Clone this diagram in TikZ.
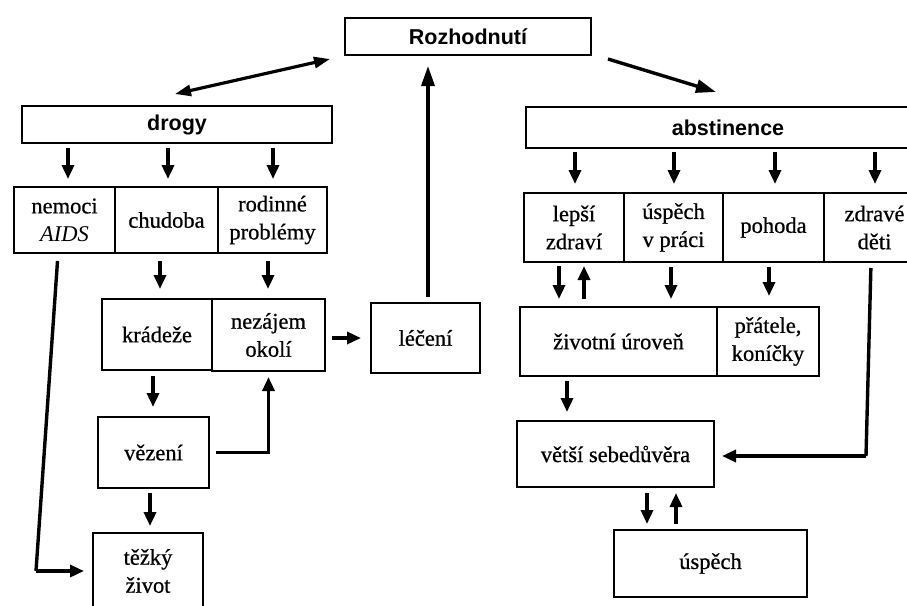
\documentclass[tikz,border=0pt]{standalone}
\usepackage{fontspec}
\setmainfont{Liberation Serif}[UprightFeatures={FakeBold=0.7}]
\newfontfamily\itfont{Liberation Serif Italic}
\newfontfamily\hdfont{Liberation Sans}
\usetikzlibrary{arrows.meta,calc}
\tikzset{
  bx/.style={draw, line width=2pt, inner sep=0pt, align=center,
    font=\fontsize{22.5}{28}\selectfont},
  hd/.style={bx, font=\hdfont\bfseries\fontsize{21.5}{24}\selectfont},
  arr/.style={line width=3.4pt, -{Triangle[length=14pt,width=12pt]}},
  darr/.style={line width=3.2pt, {Triangle[length=16pt,width=11pt]}-{Triangle[length=16pt,width=11pt]}},
  ln/.style={line width=3.4pt}
}
\begin{document}
\begin{tikzpicture}[x=1pt,y=-1pt]
\useasboundingbox (0,0) rectangle (907,605);
% header boxes
\node[hd, minimum width=246pt, minimum height=37pt] (rozh) at (468,36.5) {Rozhodnut\'{\i}};
\node[hd, minimum width=310pt, minimum height=37pt] (drogy) at (177,124.5) {drogy};
\node[hd, minimum width=404pt, minimum height=41pt] (abst) at (728,127.5) {abstinence};
% left side
\node[bx, minimum width=101pt, minimum height=66pt] (nemoci) at (64.5,220) {nemoci\\{\itfont AIDS}};
\node[bx, minimum width=103pt, minimum height=66pt] (chudoba) at (166.5,220) {chudoba};
\node[bx, minimum width=109pt, minimum height=66pt] (rodinne) at (272.5,220) {rodinné\\problémy};
\node[bx, minimum width=110pt, minimum height=71pt] (kradeze) at (157,334.5) {krádeže};
\node[bx, minimum width=113pt, minimum height=72pt] (nezajem) at (268.5,335) {nezájem\\okolí};
\node[bx, minimum width=109pt, minimum height=70pt] (leceni) at (425.5,338) {léčení};
\node[bx, minimum width=111pt, minimum height=71pt] (vezeni) at (153.5,452.5) {vězení};
\node[bx, minimum width=110pt, minimum height=76pt] (tezky) at (148,571) {těžký\\život};
% right side
\node[bx, minimum width=100pt, minimum height=69pt] (lepsi) at (574,227.5) {lepší\\zdraví};
\node[bx, minimum width=99pt, minimum height=69pt] (uspechp) at (673.5,227.5) {úspěch\\v práci};
\node[bx, minimum width=101pt, minimum height=69pt] (pohoda) at (773.5,227.5) {pohoda};
\node[bx, minimum width=101pt, minimum height=69pt] (zdrave) at (874.5,227.5) {zdravé\\děti};
\node[bx, minimum width=197pt, minimum height=69pt] (zivotni) at (618.5,341.5) {životní úroveň};
\node[bx, minimum width=102pt, minimum height=69pt] (pratele) at (768,341.5) {přátele,\\koníčky};
\node[bx, minimum width=197pt, minimum height=66pt] (vetsi) at (615.5,454) {větší sebedůvěra};
\node[bx, minimum width=193pt, minimum height=67pt] (uspech) at (710.5,563.5) {úspěch};
% top connectors
\draw[darr] ([shift={(-14,3)}]rozh.south west) -- ([shift={(-2,-11)}]drogy.north);
\draw[arr, -{Triangle[length=20pt,width=13pt]}] ([shift={(16,3)}]rozh.south east) -- ([shift={(-12,-14)}]abst.north);
\draw[arr, -{Triangle[length=20pt,width=13pt]}, shorten <=5pt, shorten >=10pt] (leceni.north -| 428,0) -- (rozh.south -| 428,0);
% drogy down
\foreach \n/\x in {nemoci/68, chudoba/168, rodinne/273}
  \draw[arr, shorten <=4pt, shorten >=7pt] (drogy.south -| \x,0) -- (\n.north -| \x,0);
% abstinence down
\foreach \n/\x in {lepsi/575, uspechp/674, pohoda/775, zdrave/875}
  \draw[arr, shorten <=3pt, shorten >=8pt] (abst.south -| \x,0) -- (\n.north -| \x,0);
% left middle
\draw[arr, shorten <=7pt, shorten >=9pt] (chudoba.south -| 160,0) -- (kradeze.north -| 160,0);
\draw[arr, shorten <=7pt, shorten >=9pt] (rodinne.south -| 268,0) -- (nezajem.north -| 268,0);
\coordinate (c1) at (36,571);
\draw[ln, shorten <=7pt] (nemoci.south -| 58,0) -- (c1);
\draw[arr, shorten >=8pt] (c1) -- (tezky.west);
\draw[arr, shorten <=6pt, shorten >=9pt] (nezajem.east |- leceni.west) -- (leceni.west);
\draw[arr, shorten <=5pt, shorten >=9pt] (kradeze.south -| 153,0) -- (vezeni.north -| 153,0);
\draw[arr, shorten <=6pt, shorten >=5pt] (vezeni.east) -| (nezajem.south);
\draw[arr, shorten <=4pt, shorten >=6pt] (vezeni.south -| 150,0) -- (tezky.north -| 150,0);
% right middle
\draw[arr, shorten <=3pt, shorten >=7pt] (lepsi.south -| 559,0) -- (zivotni.north -| 559,0);
\draw[arr, shorten <=7pt, shorten >=3pt] (zivotni.north -| 584,0) -- (lepsi.south -| 584,0);
\draw[arr, shorten <=4pt, shorten >=7pt] (uspechp.south -| 671,0) -- (zivotni.north -| 671,0);
\draw[arr, shorten <=4pt, shorten >=10pt] (pohoda.south -| 769,0) -- (pratele.north -| 769,0);
\coordinate (c2) at (866,456);
\draw[ln, shorten <=5pt] (zdrave.south -| 871,0) -- (c2);
\draw[arr, shorten >=7pt] (c2) -- (vetsi.east |- c2);
\draw[arr, shorten <=4pt, shorten >=8pt] (zivotni.south -| 567,0) -- (vetsi.north -| 567,0);
\draw[arr, shorten <=5pt, shorten >=5pt] (vetsi.south -| 647,0) -- (uspech.north -| 647,0);
\draw[arr, shorten <=5pt, shorten >=5pt] (uspech.north -| 676,0) -- (vetsi.south -| 676,0);
\end{tikzpicture}
\end{document}
